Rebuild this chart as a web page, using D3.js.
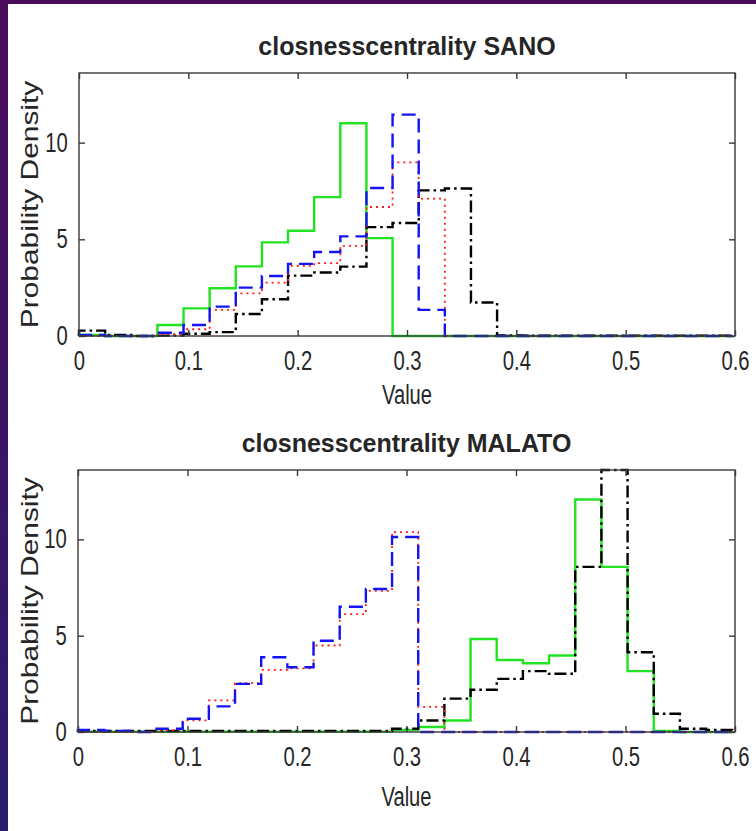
<!DOCTYPE html>
<html>
<head>
<meta charset="utf-8">
<script src="https://cdn.jsdelivr.net/npm/d3@7"></script>
<style>
  body { margin: 0; background: #fff; }
  svg { display: block; }
  text { font-family: "Liberation Sans", Arial, sans-serif; fill: #262626; }
</style>
</head>
<body>
<svg width="756" height="831"></svg>
<script>
// bin edges shared by all histograms
var binEdges = [0, 0.0239, 0.0478, 0.0717, 0.0956, 0.1195, 0.1434, 0.1673, 0.1912, 0.2151,
  0.239, 0.2629, 0.2868, 0.3107, 0.3346, 0.3585, 0.3824, 0.4063, 0.4302, 0.4541,
  0.478, 0.5019, 0.5258, 0.5497, 0.5736, 0.5975];

var xTicks = [0, 0.1, 0.2, 0.3, 0.4, 0.5, 0.6];
var yTicks = [0, 5, 10];
var yMax = 13.6;

// SANO
var sanoGreen = [0.05, 0, 0, 0.57, 1.43, 2.47, 3.6, 4.84, 5.44, 7.18, 11.0, 5.06, 0,
  0, 0, 0, 0, 0, 0, 0, 0, 0, 0, 0, 0];
var sanoBlue = [0.05, 0, 0, 0.17, 0.57, 1.52, 2.5, 3.1, 3.73, 4.34, 5.15, 7.65, 11.45,
  1.35, 0, 0, 0, 0, 0, 0, 0, 0, 0, 0, 0];
var sanoRed = [0, 0, 0, 0.1, 0.35, 1.35, 2.2, 2.76, 3.63, 3.77, 4.66, 6.67, 8.98,
  7.1, 0, 0, 0, 0, 0, 0, 0, 0, 0, 0, 0];
var sanoBlack = [0.28, 0.05, 0, 0.02, 0.12, 0.2, 1.14, 1.9, 3.12, 3.28, 3.59, 5.63, 5.84,
  7.53, 7.63, 1.73, 0.03, 0.02, 0.02, 0.02, 0.02, 0.02, 0.02, 0.02, 0.02];

// MALATO
var malatoGreen = [0.02, 0.02, 0.02, 0.02, 0.02, 0.02, 0.02, 0.02, 0.02, 0.02, 0.02, 0.02, 0.1,
  0.26, 0.6, 4.83, 3.74, 3.57, 3.97, 12.07, 8.57, 3.16, 0.05, 0, 0];
var malatoBlue = [0.1, 0.05, 0, 0.17, 0.69, 1.33, 2.5, 3.88, 3.36, 4.74, 6.5, 7.42, 10.12,
  0, 0, 0, 0, 0, 0, 0, 0, 0, 0, 0, 0];
var malatoRed = [0, 0, 0, 0.1, 0.6, 1.64, 2.54, 3.23, 3.3, 4.49, 6.12, 7.33, 10.38,
  1.3, 0, 0, 0, 0, 0, 0, 0, 0, 0, 0, 0];
var malatoBlack = [0.05, 0.05, 0.05, 0.05, 0.05, 0.05, 0.05, 0.05, 0.05, 0.05, 0.05, 0.05, 0.17,
  0.6, 1.73, 2.19, 2.76, 3.16, 3.02, 8.57, 13.6, 4.14, 0.95, 0.17, 0.1];

var svg = d3.select("svg");

// purple slide frame
var defs = svg.append("defs");
var grad = defs.append("linearGradient")
  .attr("id", "frame")
  .attr("x1", 0).attr("y1", 0).attr("x2", 0).attr("y2", 1);
grad.append("stop").attr("offset", "0%").attr("stop-color", "#4b0c5c");
grad.append("stop").attr("offset", "100%").attr("stop-color", "#2a1c6c");
svg.append("rect").attr("x", 0).attr("y", 0).attr("width", 8).attr("height", 831)
  .attr("fill", "url(#frame)");
svg.append("rect").attr("x", 0).attr("y", 0).attr("width", 756).attr("height", 4)
  .attr("fill", "#4b0c5c");

var styles = {
  green: { color: "#22e322", dash: null, width: 2.4 },
  black: { color: "#000", dash: "12,4,2.5,4", width: 2.4 },
  red: { color: "#ff1a1a", dash: "2,4", width: 1.8 },
  blue: { color: "#1414f0", dash: "14,7", width: 2.4 }
};

function drawPanel(opts) {
  var left = opts.left, top = opts.top, width = opts.width, height = opts.height;

  var x = d3.scaleLinear().domain([0, 0.6]).range([0, width]);
  var y = d3.scaleLinear().domain([0, yMax]).range([height, 0]);

  var g = svg.append("g").attr("transform", "translate(" + left + "," + top + ")");

  var line = d3.line()
    .x(function(d) { return x(d[0]); })
    .y(function(d) { return y(d[1]); });

  // series order: drawn bottom to top
  opts.series.forEach(function(s) {
    var pts = [[binEdges[0], 0]];
    s.values.forEach(function(v, i) {
      pts.push([binEdges[i], v]);
      pts.push([binEdges[i + 1], v]);
    });
    pts.push([binEdges[binEdges.length - 1], 0]);
    var st = styles[s.key];
    g.append("path")
      .datum(pts)
      .attr("fill", "none")
      .attr("stroke", st.color)
      .attr("stroke-width", st.width)
      .attr("stroke-dasharray", st.dash)
      .attr("d", line);
  });

  // box
  g.append("rect")
    .attr("width", width).attr("height", height)
    .attr("fill", "none").attr("stroke", "#3a3a3a").attr("stroke-width", 1.4);

  var xAxis = g.append("g").attr("transform", "translate(0," + height + ")")
    .call(d3.axisBottom(x).tickValues(xTicks).tickSize(-6).tickPadding(15)
      .tickFormat(function(d) { return String(d); }));
  var xTop = g.append("g")
    .call(d3.axisTop(x).tickValues(xTicks).tickSize(-6).tickFormat(""));
  var yAxis = g.append("g")
    .call(d3.axisLeft(y).tickValues(yTicks).tickSize(-6).tickPadding(12));
  var yRight = g.append("g").attr("transform", "translate(" + width + ",0)")
    .call(d3.axisRight(y).tickValues(yTicks).tickSize(-6).tickFormat(""));

  [xAxis, xTop, yAxis, yRight].forEach(function(a) {
    a.select(".domain").remove();
    a.selectAll(".tick line").attr("stroke", "#3a3a3a").attr("stroke-width", 1.4);
  });

  xAxis.selectAll("text")
    .attr("font-size", 27).attr("fill", "#262626")
    .attr("transform", "scale(0.75,1)");
  yAxis.selectAll("text")
    .attr("font-size", 27).attr("fill", "#262626")
    .attr("x", -15)
    .attr("transform", "scale(0.75,1)");

  // title
  svg.append("text")
    .attr("x", left + width / 2).attr("y", top - 18)
    .attr("text-anchor", "middle")
    .attr("font-weight", "bold")
    .attr("font-size", 25)
    .attr("fill", "#111")
    .text(opts.title);

  // x label
  svg.append("text")
    .attr("transform", "translate(" + (left + width / 2) + "," + opts.xLabelY + ") scale(0.72,1)")
    .attr("text-anchor", "middle")
    .attr("font-size", 28)
    .text("Value");

  // y label
  svg.append("text")
    .attr("transform", "translate(" + 38 + "," + (top + height / 2) + ") rotate(-90) scale(1.3,1)")
    .attr("text-anchor", "middle")
    .attr("font-size", 23)
    .text("Probability Density");
}

drawPanel({
  left: 79, top: 73, width: 656, height: 263, xLabelY: 404,
  title: "closnesscentrality SANO",
  series: [
    { key: "green", values: sanoGreen },
    { key: "black", values: sanoBlack },
    { key: "red", values: sanoRed },
    { key: "blue", values: sanoBlue }
  ]
});

drawPanel({
  left: 78, top: 470, width: 657, height: 262, xLabelY: 806,
  title: "closnesscentrality MALATO",
  series: [
    { key: "green", values: malatoGreen },
    { key: "black", values: malatoBlack },
    { key: "red", values: malatoRed },
    { key: "blue", values: malatoBlue }
  ]
});
</script>
</body>
</html>
